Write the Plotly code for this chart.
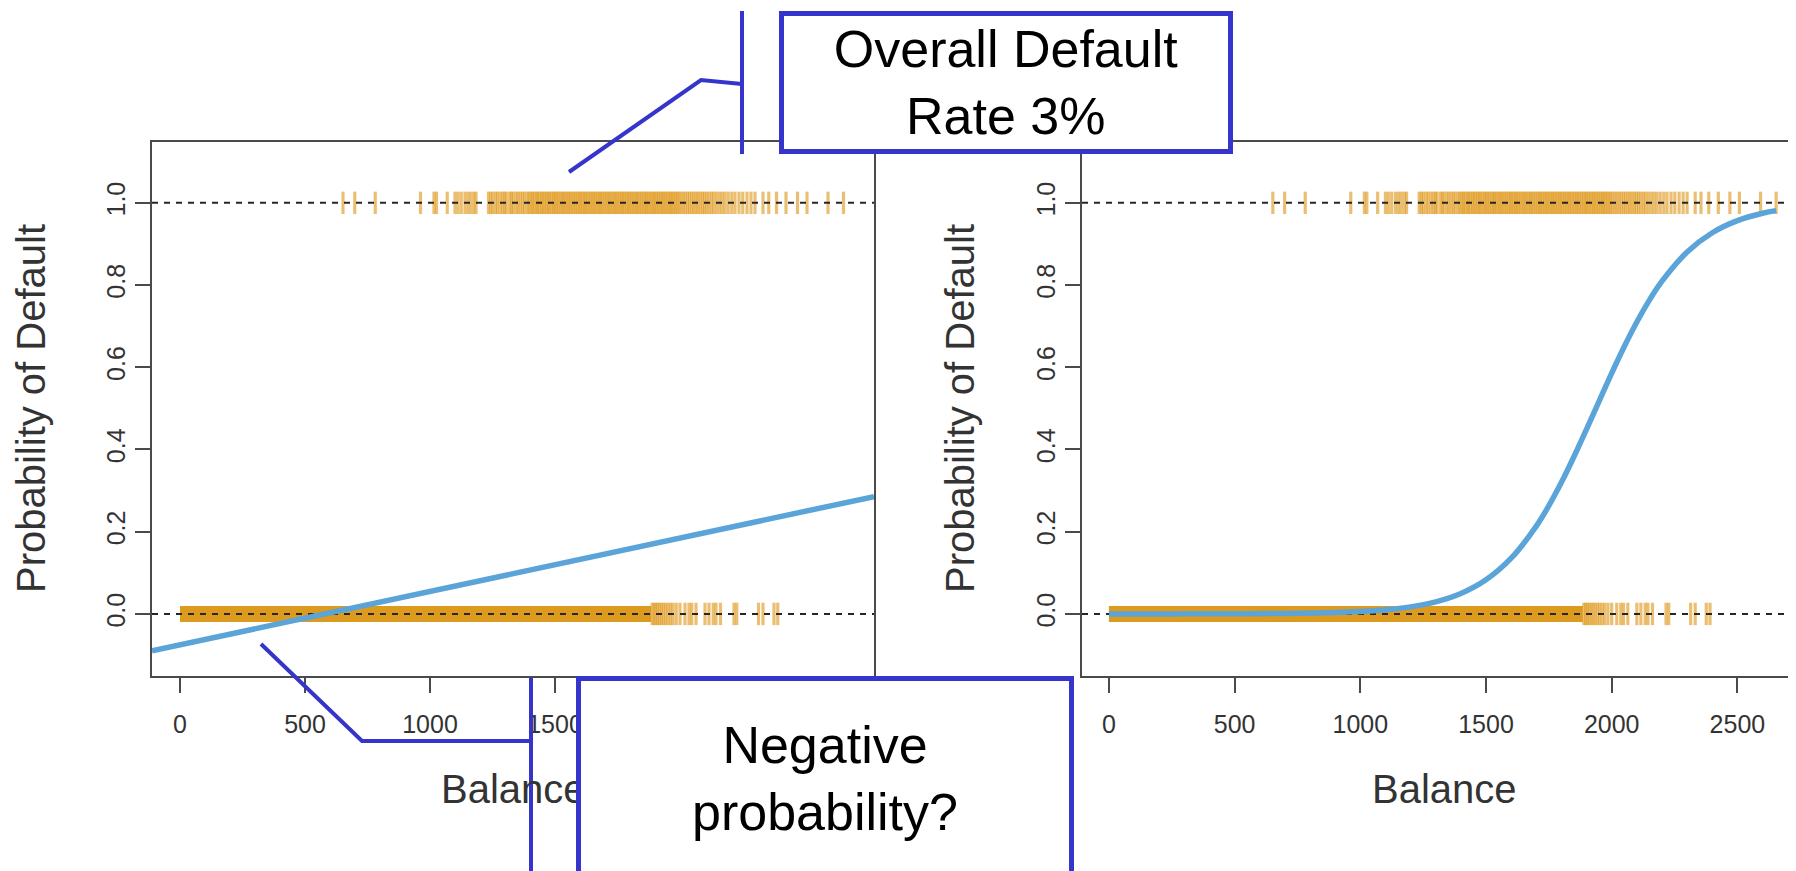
import plotly.graph_objects as go

W, H = 1796, 871
OFF = 8  # page body margin of the exported html

# ---------------- data ----------------
ytick_vals = [0.0, 0.2, 0.4, 0.6, 0.8, 1.0]
ytick_text = ["0.0", "0.2", "0.4", "0.6", "0.8", "1.0"]
xtick_vals = [0, 500, 1000, 1500, 2000, 2500]
xtick_text = ["0", "500", "1000", "1500", "2000", "2500"]
ref_levels = [0, 1]

# balances of defaulters (rug at y = 1)
default_balance = [
    652, 699, 781, 962, 1016, 1026, 1069, 1100, 1112, 1125, 1140, 1152, 1163, 1175, 1184,
    1234, 1243, 1251, 1262, 1270, 1281, 1290, 1299, 1305, 1318, 1326, 1333, 1344, 1352,
    1361, 1370, 1378, 1389, 1396,
    1404, 1410, 1417, 1425, 1431, 1438, 1446, 1452, 1459, 1466, 1473, 1479, 1487, 1494,
    1500, 1507, 1513, 1521, 1528, 1534, 1541, 1548, 1555, 1561, 1568, 1575, 1582, 1589,
    1596, 1602, 1609, 1616, 1622, 1629, 1636, 1643, 1650, 1656, 1663, 1670, 1677, 1683,
    1690, 1697, 1704, 1711, 1717, 1724, 1731, 1738, 1744, 1751, 1758, 1765, 1771, 1778,
    1785, 1792, 1798, 1805, 1812, 1819, 1826, 1832, 1839, 1846, 1853, 1860, 1866, 1873,
    1880, 1887, 1894, 1900, 1907, 1914, 1921, 1928, 1934, 1941, 1948, 1955, 1962, 1968,
    1975, 1982, 1989, 1996,
    2004, 2013, 2021, 2030, 2038, 2047, 2055, 2064, 2072, 2081, 2090, 2098, 2107, 2116,
    2126, 2135, 2146, 2158, 2169, 2180, 2193, 2207, 2220, 2236, 2251, 2268, 2284, 2300,
    2332, 2355, 2386, 2424, 2470, 2508, 2592, 2654,
]
default_level = [1] * len(default_balance)

# non-defaulters (rug at y = 0): a solid band plus the sparse tail
nondefault_dense_span = [0, 1885]
nondefault_sparse = [
    1889, 1896, 1903, 1910, 1918, 1926, 1934, 1943, 1952, 1962, 1972, 1985,
    2000, 2020, 2036, 2047, 2064, 2100, 2116, 2133, 2144, 2162, 2216, 2227, 2314,
    2332, 2376, 2391,
]
nondefault_level = [0] * len(nondefault_sparse)

# linear regression fit (left)
linear_x = [-112, 2776]
linear_y = [-0.0897, 0.2854]

# logistic regression fit (right)
logit_x = [0, 250, 500, 750, 1000, 1100, 1200, 1300, 1400, 1500, 1600, 1700, 1750,
           1800, 1850, 1900, 1950, 2000, 2050, 2100, 2150, 2200, 2300, 2400, 2500,
           2600, 2654]
logit_y = [0.0000, 0.0001, 0.0004, 0.0015, 0.0058, 0.0099, 0.0171, 0.0292, 0.0496,
           0.0829, 0.1355, 0.2137, 0.2634, 0.3201, 0.3830, 0.4494, 0.5179, 0.5858,
           0.6506, 0.7102, 0.7634, 0.8094, 0.8804, 0.9273, 0.9567, 0.9746, 0.9810]

x1_range = [-112, 2776]
x2_range = [-107, 2733]
y_range = [-0.151, 1.148]

# ---------------- styling ----------------
FONT = "Liberation Sans"
RUG = "rgba(222,152,28,0.62)"
BAND = "rgb(220,154,30)"
BLUE_LINE = "#5BA4D9"
ANN_BLUE = "#3535CC"
FRAME = "#4a4a4a"
TXT = "#333333"


def px(x):
    return (x - OFF) / W


def py(y):
    return 1 - (y - OFF) / H


fig = go.Figure()

for xa, ya, xr in (("x", "y", x1_range), ("x2", "y2", x2_range)):
    fig.add_trace(go.Scatter(
        x=default_balance, y=default_level, xaxis=xa, yaxis=ya, mode="markers",
        marker=dict(symbol="line-ns", size=16, line=dict(width=3.2, color=RUG)),
        hoverinfo="skip"))
    fig.add_trace(go.Scatter(
        x=nondefault_sparse, y=nondefault_level, xaxis=xa, yaxis=ya, mode="markers",
        marker=dict(symbol="line-ns", size=16, line=dict(width=3.2, color=RUG)),
        hoverinfo="skip"))
    for lvl in ref_levels:
        fig.add_trace(go.Scatter(
            x=xr, y=[lvl, lvl], xaxis=xa, yaxis=ya, mode="lines",
            line=dict(color="#262626", width=2, dash="6px,6px"), hoverinfo="skip"))
    # dense non-default band
    fig.add_shape(type="rect", xref=xa, yref=ya, x0=nondefault_dense_span[0],
                  x1=nondefault_dense_span[1], ysizemode="pixel", yanchor=0,
                  y0=-8, y1=8, fillcolor=BAND, line=dict(width=0), layer="below")

fig.add_trace(go.Scatter(x=linear_x, y=linear_y, xaxis="x", yaxis="y", mode="lines",
                         line=dict(color=BLUE_LINE, width=5.5), hoverinfo="skip"))
fig.add_trace(go.Scatter(x=logit_x, y=logit_y, xaxis="x2", yaxis="y2", mode="lines",
                         line=dict(color=BLUE_LINE, width=5.5, shape="spline"),
                         hoverinfo="skip"))

axis_common = dict(
    showgrid=False, zeroline=False, showline=True, linecolor=FRAME, linewidth=2,
    ticks="outside", ticklen=15, tickwidth=2, tickcolor=FRAME,
    tickfont=dict(family=FONT, size=25, color=TXT),
)

fig.update_layout(
    width=W, height=H, margin=dict(l=0, r=0, t=0, b=0),
    paper_bgcolor="white", plot_bgcolor="white", showlegend=False,
    xaxis=dict(domain=[px(152), px(874)], range=x1_range, tickvals=xtick_vals,
               ticktext=xtick_text, mirror=True, anchor="y", ticklabelstandoff=10,
               **axis_common),
    yaxis=dict(domain=[py(676), py(142)], range=y_range, tickvals=ytick_vals,
               ticktext=ytick_text, tickangle=-90, mirror=True, anchor="x",
               ticklabelstandoff=0, **axis_common),
    xaxis2=dict(domain=[px(1082), px(1796)], range=x2_range, tickvals=xtick_vals,
                ticktext=xtick_text, mirror=True, anchor="y2", ticklabelstandoff=10,
                **axis_common),
    yaxis2=dict(domain=[py(676), py(142)], range=y_range, tickvals=ytick_vals,
                ticktext=ytick_text, tickangle=-90, mirror=False, anchor="x2",
                ticklabelstandoff=0, **axis_common),
)

# axis titles (as annotations so that the callout boxes can cover them)
title_font = dict(family=FONT, size=40, color=TXT)
fig.add_annotation(text="Probability of Default", x=px(31), y=py(409), xref="paper",
                   yref="paper", textangle=-90, showarrow=False, font=title_font,
                   xanchor="center", yanchor="middle")
fig.add_annotation(text="Probability of Default", x=px(960), y=py(409), xref="paper",
                   yref="paper", textangle=-90, showarrow=False, font=title_font,
                   xanchor="center", yanchor="middle")
fig.add_annotation(text="Balance", x=px(513), y=py(789), xref="paper", yref="paper",
                   showarrow=False, font=title_font, xanchor="center", yanchor="middle")
fig.add_annotation(text="Balance", x=px(1444), y=py(789), xref="paper", yref="paper",
                   showarrow=False, font=title_font, xanchor="center", yanchor="middle")

# callout boxes
BW = 5
fig.add_annotation(text="Overall Default<br>Rate 3%", x=px(1006), y=py(82.5),
                   xref="paper", yref="paper", showarrow=False, xanchor="center",
                   yanchor="middle", width=454 - 2 * BW, height=143 - 2 * BW,
                   borderpad=0, borderwidth=BW, bordercolor=ANN_BLUE, bgcolor="white",
                   font=dict(family=FONT, size=52, color="black"), align="center",
                   valign="middle")
fig.add_annotation(text="Negative<br>probability?", x=px(825), y=py(778.5),
                   xref="paper", yref="paper", showarrow=False, xanchor="center",
                   yanchor="middle", width=498 - 2 * BW, height=205 - 2 * BW,
                   borderpad=0, borderwidth=BW, bordercolor=ANN_BLUE, bgcolor="white",
                   font=dict(family=FONT, size=52, color="black"), align="center",
                   valign="middle")

# pointer lines
def path(points):
    return "M " + " L ".join(f"{px(a):.6f},{py(b):.6f}" for a, b in points)

pointer_style = dict(color=ANN_BLUE, width=4)
fig.add_shape(type="path", xref="paper", yref="paper",
              path=path([(569, 172), (701, 80), (742, 84)]), line=pointer_style,
              layer="above")
fig.add_shape(type="line", xref="paper", yref="paper", x0=px(742), x1=px(742),
              y0=py(11), y1=py(154), line=pointer_style, layer="above")
fig.add_shape(type="path", xref="paper", yref="paper",
              path=path([(261, 644), (362, 741), (531, 741)]), line=pointer_style,
              layer="above")
fig.add_shape(type="line", xref="paper", yref="paper", x0=px(531), x1=px(531),
              y0=py(678), y1=py(890), line=pointer_style, layer="above")

fig.write_html("out.html")
